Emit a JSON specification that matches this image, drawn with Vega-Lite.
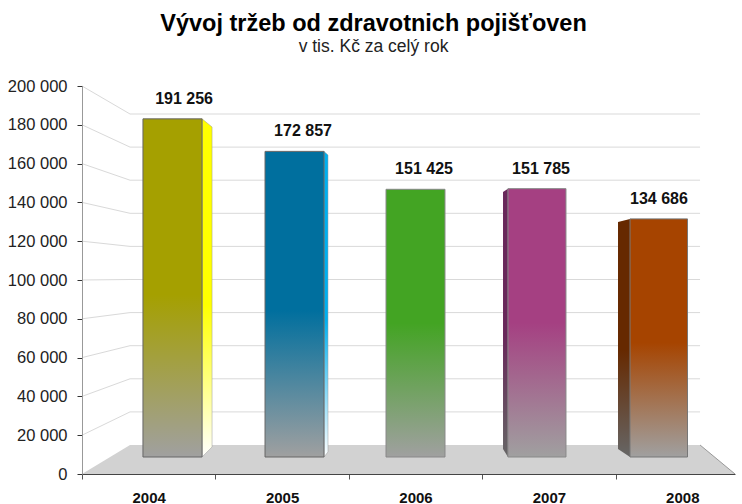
{
"$schema":"https://vega.github.io/schema/vega-lite/v6.json",
"width":653,"height":388,
"padding":{"left":82,"top":86,"right":7,"bottom":30},
"autosize":{"type":"none"},
"background":"white",
"config":{"view":{"stroke":null},"font":"Liberation Sans"},
"title":{"text":"Vývoj tržeb od zdravotnich pojišťoven","subtitle":"v tis. Kč za celý rok","anchor":"middle","frame":"group","dx":-35,"offset":23,"font":"Liberation Sans","fontSize":23.5,"fontWeight":"bold","color":"#000","subtitleFont":"Liberation Sans","subtitleFontSize":17.5,"subtitleColor":"#222","subtitlePadding":2},
"datasets":{
"bars":[
{"year":"2004","x":2003.957,"x2":2004.4,"value":191256,"label":"191 256","lx":2004.265},
{"year":"2005","x":2004.872,"x2":2005.314,"value":172857,"label":"172 857","lx":2005.157},
{"year":"2006","x":2005.779,"x2":2006.221,"value":151425,"label":"151 425","lx":2006.064},
{"year":"2007","x":2006.693,"x2":2007.128,"value":151785,"label":"151 785","lx":2006.941},
{"year":"2008","x":2007.608,"x2":2008.039,"value":134686,"label":"134 686","lx":2007.825}],
"faces":[
{"year":"2004","x":2004.4,"y":191256,"y2":0},{"year":"2004","x":2004.475,"y":186652,"y2":5656},
{"year":"2005","x":2005.314,"y":172857,"y2":0},{"year":"2005","x":2005.344,"y":170814,"y2":2828},
{"year":"2007","x":2006.656,"y":149887,"y2":4525},{"year":"2007","x":2006.693,"y":151785,"y2":0},
{"year":"2008","x":2007.518,"y":132919,"y2":4525},{"year":"2008","x":2007.608,"y":134686,"y2":0}],
"floor":[{"x":2003.5,"y":0,"y2":0},{"x":2003.86,"y":14948,"y2":0},{"x":2008.133,"y":14948,"y2":0},{"x":2008.395,"y":0,"y2":0}],
"floorEdge":[{"x":2008.133,"y":14948},{"x":2008.395,"y":0}],
"wall":[
{"k":20000,"x":2003.5,"y":20000},{"k":20000,"x":2003.86,"y":32010},{"k":20000,"x":2008.133,"y":32010},
{"k":40000,"x":2003.5,"y":40000},{"k":40000,"x":2003.86,"y":49072},{"k":40000,"x":2008.133,"y":49072},
{"k":60000,"x":2003.5,"y":60000},{"k":60000,"x":2003.86,"y":66134},{"k":60000,"x":2008.133,"y":66134},
{"k":80000,"x":2003.5,"y":80000},{"k":80000,"x":2003.86,"y":83196},{"k":80000,"x":2008.133,"y":83196},
{"k":100000,"x":2003.5,"y":100000},{"k":100000,"x":2003.86,"y":100258},{"k":100000,"x":2008.133,"y":100258},
{"k":120000,"x":2003.5,"y":120000},{"k":120000,"x":2003.86,"y":117320},{"k":120000,"x":2008.133,"y":117320},
{"k":140000,"x":2003.5,"y":140000},{"k":140000,"x":2003.86,"y":134381},{"k":140000,"x":2008.133,"y":134381},
{"k":160000,"x":2003.5,"y":160000},{"k":160000,"x":2003.86,"y":151443},{"k":160000,"x":2008.133,"y":151443},
{"k":180000,"x":2003.5,"y":180000},{"k":180000,"x":2003.86,"y":168505},{"k":180000,"x":2008.133,"y":168505},
{"k":200000,"x":2003.5,"y":200000},{"k":200000,"x":2003.86,"y":185567},{"k":200000,"x":2008.133,"y":185567}]
},
"encoding":{"x":{"field":"x","type":"quantitative","title":null,"scale":{"domain":[2003.5,2008.395],"nice":false,"zero":false},
"axis":{"values":[2003.5,2004.5,2005.5,2006.5,2007.5],"labelExpr":"format(datum.value+0.5,'d')","labelOffset":66.7,"labelFlush":false,"labelOverlap":false,"labelPadding":11,"labelFont":"Liberation Sans","labelFontSize":15,"labelFontWeight":"bold","labelColor":"#111","tickColor":"#555","tickSize":5,"domainColor":"#444","domainWidth":1,"grid":false,"zindex":1}}},
"resolve":{"scale":{"y":"independent"}},
"layer":[
{"data":{"name":"floor"},"mark":{"type":"area","fill":"#d2d2d2"},
 "encoding":{"y":{"field":"y","type":"quantitative","title":null,"scale":{"domain":[0,200000],"nice":false},
 "axis":{"values":[0,20000,40000,60000,80000,100000,120000,140000,160000,180000,200000],"labelExpr":"replace(format(datum.value,','),',',' ')","labelFont":"Liberation Sans","labelFontSize":16.5,"labelColor":"#222","labelPadding":10,"tickSize":5,"tickColor":"#333","domainColor":"#999","grid":false,"zindex":1}},"y2":{"field":"y2"}}},
{"data":{"name":"floorEdge"},"mark":{"type":"line","stroke":"#999","strokeWidth":1},
 "encoding":{"y":{"field":"y","type":"quantitative","title":null,"scale":{"domain":[0,200000],"nice":false},"axis":null}}},
{"data":{"name":"wall"},"mark":{"type":"line","stroke":"#d9d9d9","strokeWidth":1},
 "encoding":{"y":{"field":"y","type":"quantitative","title":null,"scale":{"domain":[0,200000],"nice":false},"axis":null},"detail":{"field":"k"}}},
{"data":{"name":"faces"},"transform":[{"filter":"datum.year=='2004'"}],"mark":{"type":"area","fill":{"gradient":"linear","x1":0,"y1":0,"x2":0,"y2":1,"stops":[{"offset":0,"color":"#ffff00"},{"offset":0.55,"color":"#ffff00"},{"offset":1,"color":"#ffffff"}]},"stroke":"#999","strokeWidth":0.5},
 "encoding":{"y":{"field":"y","type":"quantitative","title":null,"scale":{"domain":[-9615,209842],"nice":false,"zero":false},"axis":null},"y2":{"field":"y2"}}},
{"data":{"name":"faces"},"transform":[{"filter":"datum.year=='2005'"}],"mark":{"type":"area","fill":{"gradient":"linear","x1":0,"y1":0,"x2":0,"y2":1,"stops":[{"offset":0,"color":"#00b0f0"},{"offset":0.55,"color":"#00b0f0"},{"offset":1,"color":"#ffffff"}]},"stroke":"#999","strokeWidth":0.5},
 "encoding":{"y":{"field":"y","type":"quantitative","title":null,"scale":{"domain":[-9615,209842],"nice":false,"zero":false},"axis":null},"y2":{"field":"y2"}}},
{"data":{"name":"faces"},"transform":[{"filter":"datum.year=='2007'"}],"mark":{"type":"area","fill":{"gradient":"linear","x1":0,"y1":0,"x2":0,"y2":1,"stops":[{"offset":0,"color":"#68285a"},{"offset":0.55,"color":"#68285a"},{"offset":1,"color":"#666666"}]}},
 "encoding":{"y":{"field":"y","type":"quantitative","title":null,"scale":{"domain":[-9615,209842],"nice":false,"zero":false},"axis":null},"y2":{"field":"y2"}}},
{"data":{"name":"faces"},"transform":[{"filter":"datum.year=='2008'"}],"mark":{"type":"area","fill":{"gradient":"linear","x1":0,"y1":0,"x2":0,"y2":1,"stops":[{"offset":0,"color":"#662900"},{"offset":0.55,"color":"#662900"},{"offset":1,"color":"#666666"}]}},
 "encoding":{"y":{"field":"y","type":"quantitative","title":null,"scale":{"domain":[-9615,209842],"nice":false,"zero":false},"axis":null},"y2":{"field":"y2"}}},
{"data":{"name":"bars"},"transform":[{"filter":"datum.year=='2004'"}],"mark":{"type":"rect","stroke":"#666","strokeWidth":1,"fill":{"gradient":"linear","x1":0,"y1":0,"x2":0,"y2":1,"stops":[{"offset":0,"color":"#a5a000"},{"offset":0.52,"color":"#a5a000"},{"offset":1,"color":"#a0a0a0"}]}},
 "encoding":{"x2":{"field":"x2"},"y":{"field":"value","type":"quantitative","title":null,"scale":{"domain":[-9615,209842],"nice":false,"zero":false},"axis":null},"y2":{"datum":0}}},
{"data":{"name":"bars"},"transform":[{"filter":"datum.year=='2005'"}],"mark":{"type":"rect","stroke":"#666","strokeWidth":1,"fill":{"gradient":"linear","x1":0,"y1":0,"x2":0,"y2":1,"stops":[{"offset":0,"color":"#006f9e"},{"offset":0.52,"color":"#006f9e"},{"offset":1,"color":"#a0a0a0"}]}},
 "encoding":{"x2":{"field":"x2"},"y":{"field":"value","type":"quantitative","title":null,"scale":{"domain":[-9615,209842],"nice":false,"zero":false},"axis":null},"y2":{"datum":0}}},
{"data":{"name":"bars"},"transform":[{"filter":"datum.year=='2006'"}],"mark":{"type":"rect","stroke":"#888","strokeWidth":1,"fill":{"gradient":"linear","x1":0,"y1":0,"x2":0,"y2":1,"stops":[{"offset":0,"color":"#43a423"},{"offset":0.5,"color":"#43a423"},{"offset":1,"color":"#a0a0a0"}]}},
 "encoding":{"x2":{"field":"x2"},"y":{"field":"value","type":"quantitative","title":null,"scale":{"domain":[-9615,209842],"nice":false,"zero":false},"axis":null},"y2":{"datum":0}}},
{"data":{"name":"bars"},"transform":[{"filter":"datum.year=='2007'"}],"mark":{"type":"rect","stroke":"#888","strokeWidth":1,"fill":{"gradient":"linear","x1":0,"y1":0,"x2":0,"y2":1,"stops":[{"offset":0,"color":"#a54082"},{"offset":0.5,"color":"#a54082"},{"offset":1,"color":"#a0a0a0"}]}},
 "encoding":{"x2":{"field":"x2"},"y":{"field":"value","type":"quantitative","title":null,"scale":{"domain":[-9615,209842],"nice":false,"zero":false},"axis":null},"y2":{"datum":0}}},
{"data":{"name":"bars"},"transform":[{"filter":"datum.year=='2008'"}],"mark":{"type":"rect","stroke":"#777","strokeWidth":1,"fill":{"gradient":"linear","x1":0,"y1":0,"x2":0,"y2":1,"stops":[{"offset":0,"color":"#a64400"},{"offset":0.52,"color":"#a64400"},{"offset":1,"color":"#a0a0a0"}]}},
 "encoding":{"x2":{"field":"x2"},"y":{"field":"value","type":"quantitative","title":null,"scale":{"domain":[-9615,209842],"nice":false,"zero":false},"axis":null},"y2":{"datum":0}}},
{"data":{"name":"bars"},"mark":{"type":"text","font":"Liberation Sans","fontSize":16,"fontWeight":"bold","color":"#111","dy":-20,"align":"center","baseline":"middle"},
 "encoding":{"x":{"field":"lx","type":"quantitative","title":null,"scale":{"domain":[2003.5,2008.395],"nice":false,"zero":false}},"y":{"field":"value","type":"quantitative","title":null,"scale":{"domain":[-9615,209842],"nice":false,"zero":false},"axis":null},"text":{"field":"label"}}}
]
}
